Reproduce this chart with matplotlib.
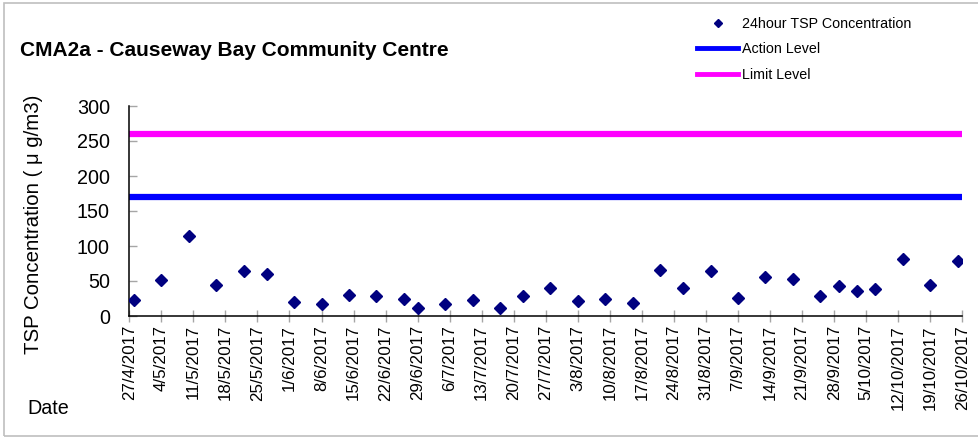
import datetime as dt
import matplotlib
matplotlib.use("Agg")
import matplotlib.pyplot as plt
from matplotlib.lines import Line2D
from matplotlib.patches import Rectangle

plt.rcParams['font.family'] = ['Liberation Sans', 'DejaVu Sans']

# 24-hour TSP readings (ug/m3)
dates = ["28/4/2017", "4/5/2017", "10/5/2017", "16/5/2017", "22/5/2017", "27/5/2017",
         "2/6/2017", "8/6/2017", "14/6/2017", "20/6/2017", "26/6/2017", "29/6/2017",
         "5/7/2017", "11/7/2017", "17/7/2017", "22/7/2017", "28/7/2017", "3/8/2017",
         "9/8/2017", "15/8/2017", "21/8/2017", "26/8/2017", "1/9/2017", "7/9/2017",
         "13/9/2017", "19/9/2017", "25/9/2017", "29/9/2017", "3/10/2017", "7/10/2017",
         "13/10/2017", "19/10/2017", "25/10/2017"]
tsp = [23, 52, 115, 44, 64, 60, 20, 17, 30, 29, 25, 11, 17, 23, 12, 29, 40, 21,
       24, 19, 66, 40, 64, 26, 56, 53, 28, 43, 36, 39, 81, 44, 79]
action_level = 170
limit_level = 260

start = dt.datetime(2017, 4, 27)
end = dt.datetime(2017, 10, 26)

x = [dt.datetime.strptime(d, "%d/%m/%Y") for d in dates]
ticks = [start + dt.timedelta(days=7 * i) for i in range(27)]
tick_labels = [f"{t.day}/{t.month}/{t.year}" for t in ticks]

fig = plt.figure(figsize=(9.79, 4.37), dpi=100)
ax = fig.add_axes([129.3 / 979, 1 - 316 / 437, (962.3 - 129.3) / 979, 210 / 437])

ax.axhline(action_level, color='#0000FF', lw=4.5, solid_capstyle='butt', zorder=2)
ax.axhline(limit_level, color='#FF00FF', lw=4.5, solid_capstyle='butt', zorder=2)
ax.plot(x, tsp, linestyle='none', marker='D', markersize=6.3, color='#000080', zorder=3)

ax.set_xlim(start, end)
ax.set_ylim(0, 300)
ax.set_yticks(range(0, 301, 50))
ax.set_xticks(ticks)
ax.set_xticklabels(tick_labels, rotation=90, fontsize=12.2)
ax.tick_params(axis='x', direction='inout', length=9, color='#A6A6A6', width=1, pad=2)
ax.tick_params(axis='y', direction='in', length=6, color='#A6A6A6', width=1, labelsize=14.2, pad=14)

for s in ['top', 'right']:
    ax.spines[s].set_visible(False)
for s in ['left', 'bottom']:
    ax.spines[s].set_linewidth(1.1)

# title, axis texts
fig.text(20 / 979, 1 - 50 / 437, "CMA2a - Causeway Bay Community Centre",
         fontsize=15, fontweight='bold', va='center', ha='left')
fig.text(34 / 979, 1 - 224 / 437, "TSP Concentration ( \u03bc g/m3)",
         fontsize=14.7, rotation=90, va='center', ha='center')
fig.text(27 / 979, 1 - 409 / 437, "Date", fontsize=14.2, va='center', ha='left')

# legend
handles = [
    Line2D([], [], linestyle='none', marker='D', markersize=3.6, color='#000080'),
    Line2D([], [], color='#0000FF', lw=3.5),
    Line2D([], [], color='#FF00FF', lw=3.5),
]
fig.legend(handles, ["24hour TSP Concentration", "Action Level", "Limit Level"],
           loc='upper left', bbox_to_anchor=(697 / 979, 1 - 17 / 437),
           frameon=False, fontsize=10.3, handlelength=2.9, handletextpad=0.25,
           labelspacing=0.8, borderpad=0, borderaxespad=0)

# outer frame
fig.patches.append(Rectangle((4 / 979, 1 / 437), 1.2, 1 - 4 / 437, transform=fig.transFigure,
                             fill=False, edgecolor='#BFBFBF', lw=1.2))

fig.savefig("out.png", dpi=100)
